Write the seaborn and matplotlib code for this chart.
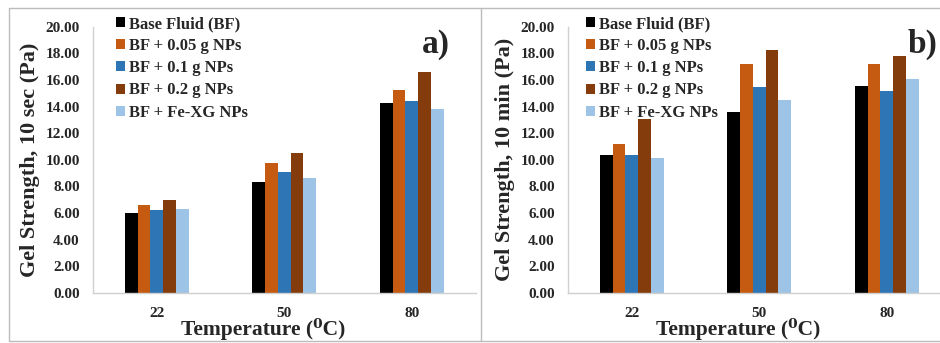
import numpy as np
import pandas as pd
import matplotlib
matplotlib.use('Agg')
import matplotlib.pyplot as plt
from matplotlib.lines import Line2D
import seaborn as sns

# ── Data ─────────────────────────────────────────────────────
temps = ['22', '50', '80']
series = ['Base Fluid (BF)', 'BF + 0.05 g NPs', 'BF + 0.1 g NPs',
          'BF + 0.2 g NPs', 'BF + Fe-XG NPs']
gel_10s = [
    [6.0, 8.3, 14.3],     # Base Fluid
    [6.6, 9.8, 15.25],    # +0.05 g
    [6.2, 9.1, 14.4],     # +0.1 g
    [7.0, 10.5, 16.6],    # +0.2 g
    [6.3, 8.65, 13.8],    # Fe-XG
]
gel_10m = [
    [10.4, 13.6, 15.55],
    [11.2, 17.2, 17.2],
    [10.35, 15.45, 15.2],
    [13.05, 18.25, 17.8],
    [10.15, 14.5, 16.05],
]
yticks = np.arange(0, 20.01, 2)

# ── Style ────────────────────────────────────────────────────
COLORS = ['#000000', '#C55A11', '#2E75B6', '#843C0C', '#9DC3E6']
SPINE = '#d0d0d0'
sns.set_style('white')
plt.rcParams['font.family'] = ['Liberation Serif', 'DejaVu Serif']
plt.rcParams['font.weight'] = 'bold'


def to_long(vals):
    rows = []
    for s, row in zip(series, vals):
        for t, v in zip(temps, row):
            rows.append({'Temperature': t, 'Series': s, 'Value': v})
    return pd.DataFrame(rows)


W, H = 940, 343
fig = plt.figure(figsize=(W / 100, H / 100), dpi=100)

panels = [
    (gel_10s, 'Gel Strength, 10 sec (Pa)', 'a)', 93, 116, 436),
    (gel_10m, 'Gel Strength, 10 min (Pa)', 'b)', 568, 586, 923),
]
for vals, ylab, tag, left_px, leg_px, tag_px in panels:
    ax = fig.add_axes([left_px / W, 50 / H, 382.5 / W, 266.3 / H])
    df = to_long(vals)
    sns.barplot(data=df, x='Temperature', y='Value', hue='Series',
                order=temps, hue_order=series, palette=COLORS, saturation=1,
                width=0.5, gap=0, linewidth=0, ax=ax, errorbar=None)
    ax.set_ylim(0, 20)
    ax.set_yticks(yticks)
    ax.set_yticklabels([f'{v:.2f}' for v in yticks], fontsize=11, fontweight='bold')
    ax.set_xticks(range(len(temps)))
    ax.set_xticklabels(temps, fontsize=11, fontweight='bold')
    ax.tick_params(axis='y', length=0, pad=9.5)
    ax.tick_params(axis='x', length=0, pad=10)
    ax.set_xlabel('Temperature (\u2070C)', fontsize=15.5, fontweight='bold', labelpad=-1)
    ax.xaxis.set_label_coords(0.446, -0.095)
    ax.set_ylabel(ylab, fontsize=16, fontweight='bold', labelpad=4)
    for side in ['top', 'right']:
        ax.spines[side].set_visible(False)
    for side in ['left', 'bottom']:
        ax.spines[side].set_color(SPINE)
        ax.spines[side].set_linewidth(1.0)
    ax.legend(loc='upper left', bbox_to_anchor=(leg_px / W, 1 - 16 / H),
              bbox_transform=fig.transFigure, frameon=False,
              handlelength=0.55, handleheight=0.55,
              handletextpad=0.25, labelspacing=0.37, borderpad=0,
              borderaxespad=0, prop={'weight': 'bold', 'size': 12})
    fig.text(tag_px / W, 1 - 44 / H, tag, fontsize=24, fontweight='bold',
             ha='center', va='center')

# panel frames
for xs, ys in [([9 / W, 1], [1 - 8 / H] * 2),
               ([9 / W, 1], [1 - 341 / H] * 2),
               ([9 / W] * 2, [1 - 8 / H, 1 - 341 / H]),
               ([481 / W] * 2, [1 - 8 / H, 1 - 341 / H])]:
    fig.add_artist(Line2D(xs, ys, color='#bcbcbc', linewidth=1.0,
                          transform=fig.transFigure))

fig.savefig('out.png', dpi=100, facecolor='white')
